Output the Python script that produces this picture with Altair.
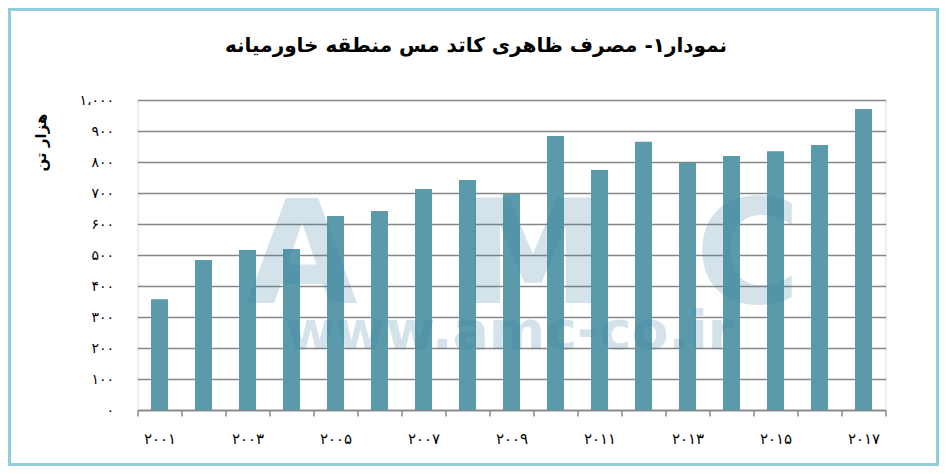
import altair as alt
import pandas as pd

# ---- data ----
years = ["2001", "2002", "2003", "2004", "2005", "2006", "2007", "2008", "2009",
         "2010", "2011", "2012", "2013", "2014", "2015", "2016", "2017"]
values = [357, 484, 516, 519, 626, 642, 713, 742, 697, 884, 774, 865, 797, 819, 835, 855, 971]
year_labels = ["۲۰۰۱", "", "۲۰۰۳", "", "۲۰۰۵", "", "۲۰۰۷", "", "۲۰۰۹",
               "", "۲۰۱۱", "", "۲۰۱۳", "", "۲۰۱۵", "", "۲۰۱۷"]
y_ticks = [0, 100, 200, 300, 400, 500, 600, 700, 800, 900, 1000]
y_tick_labels = ["۰", "۱۰۰", "۲۰۰", "۳۰۰", "۴۰۰", "۵۰۰", "۶۰۰", "۷۰۰", "۸۰۰", "۹۰۰", "۱،۰۰۰"]
title_text = ["نمودار۱- مصرف ظاهری کاتد مس منطقه خاورمیانه"]
y_title = "هزار تن"
watermark_letters = ["A", "M", "C"]
watermark_url = ["www.amc-co.ir"]

df = pd.DataFrame({"year": years, "value": values})

FONT = "DejaVu Sans"
GRID = "#868686"


def js_list(items):
    return "[" + ",".join("'" + s + "'" for s in items) + "]"


x_label_expr = f"{js_list(year_labels)}[indexof({js_list(years)}, datum.value)]"
y_label_expr = f"{js_list(y_tick_labels)}[round(datum.value / 100)]"

bars = alt.Chart(df).mark_bar(size=17, color="#5b9aab").encode(
    x=alt.X("year:N", sort=years,
            scale=alt.Scale(paddingInner=0, paddingOuter=0),
            axis=alt.Axis(title=None, labelAngle=0, labelExpr=x_label_expr,
                          labelFont=FONT, labelFontSize=15, labelColor="#000000",
                          labelPadding=15, tickBand="extent", tickSize=6,
                          tickColor=GRID, tickWidth=1.5,
                          domainColor=GRID, domainWidth=1.5, grid=False)),
    y=alt.Y("value:Q", scale=alt.Scale(domain=[0, 1000], nice=False),
            axis=alt.Axis(values=y_ticks, labelExpr=y_label_expr,
                          labelFont=FONT, labelFontSize=14, labelColor="#000000",
                          labelPadding=24, ticks=False, tickSize=0, domain=False,
                          grid=True, gridColor=GRID, gridWidth=1.5,
                          title=y_title, titleFont=FONT, titleFontSize=15,
                          titleFontWeight="bold", titleColor="#000000",
                          titleAngle=270, titleAlign="right", titleBaseline="middle",
                          titleX=-97, titleY=13)),
)

wm_color = "#3c82a0"
wm_opacity = 0.22
letter_x = [164.5, 395.5, 610.5]
wm_layers = []
for letter, xpos in zip(watermark_letters, letter_x):
    wm_layers.append(
        alt.Chart(pd.DataFrame({"t": [letter]})).mark_text(
            font=FONT, fontSize=144, fontWeight="bold", color=wm_color,
            opacity=wm_opacity, baseline="alphabetic", align="center"
        ).encode(text="t:N", x=alt.value(xpos), y=alt.value(203))
    )
wm_layers.append(
    alt.Chart(pd.DataFrame({"t": watermark_url})).mark_text(
        font=FONT, fontSize=54, fontWeight="bold", color=wm_color,
        opacity=wm_opacity, baseline="alphabetic", align="center"
    ).encode(text="t:N", x=alt.value(372.5), y=alt.value(249))
)

title = alt.Chart(pd.DataFrame({"t": title_text})).mark_text(
    font=FONT, fontSize=20, fontWeight="bold", color="#000000",
    baseline="middle", align="center"
).encode(text="t:N", x=alt.value(338.5), y=alt.value(-54))

frame = alt.Chart(pd.DataFrame({"f": [0]})).mark_rect(
    fillOpacity=0, stroke="#92cddc", strokeWidth=3
).encode(x=alt.value(-128), x2=alt.value(800), y=alt.value(-90.5), y2=alt.value(364.5))

chart = alt.layer(bars, *wm_layers, title, frame).properties(
    width=748, height=310,
    padding={"left": 129.5, "top": 92, "right": 53.5, "bottom": 56},
    autosize=alt.AutoSizeParams(type="none"),
).configure_view(stroke=None).configure(background="white")

chart.save("out.html", embed_options={"renderer": "svg", "actions": False})
